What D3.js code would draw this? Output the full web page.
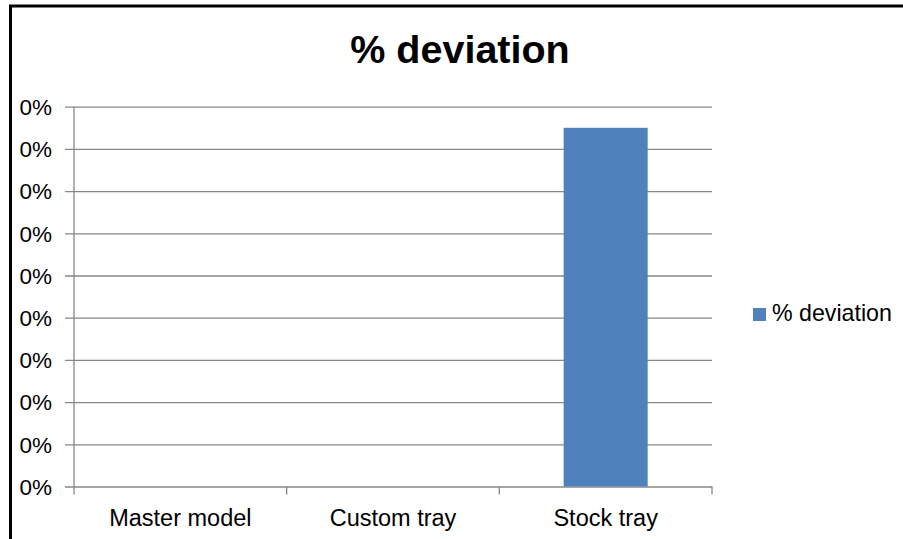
<!DOCTYPE html>
<html>
<head>
<meta charset="utf-8">
<script src="https://cdn.jsdelivr.net/npm/d3@7"></script>
<style>
  body { margin: 0; background: #fff; }
  text { font-family: "Liberation Sans", Arial, sans-serif; fill: #000; }
</style>
</head>
<body>
<div id="root"></div>
<script>
// chart data
var categories = ["Master model", "Custom tray", "Stock tray"];
var deviation = [0, 0, 0.00085];
var yTicks = [0, 0.0001, 0.0002, 0.0003, 0.0004, 0.0005, 0.0006, 0.0007, 0.0008, 0.0009];
var seriesName = "% deviation";

var W = 903, H = 539;
var plotLeft = 74, plotRight = 712, plotTop = 106.7, plotBottom = 486.5;

var svg = d3.select("#root")
    .append("svg")
    .attr("width", W)
    .attr("height", H);

// outer frame (cropped on right/bottom)
svg.append("rect")
    .attr("x", 10.5).attr("y", 6)
    .attr("width", W + 20).attr("height", H + 20)
    .attr("fill", "#fff")
    .attr("stroke", "#000")
    .attr("stroke-width", 3);

var x = d3.scaleBand().domain(categories).range([plotLeft, plotRight]).padding(0);
var y = d3.scaleLinear().domain([0, 0.0009]).range([plotBottom, plotTop]);

// grid + y labels
var yAxis = d3.axisLeft(y)
    .tickValues(yTicks)
    .tickFormat(d3.format(".0%"))
    .tickSizeInner(-(plotRight - plotLeft))
    .tickSizeOuter(0)
    .tickPadding(0);

var gy = svg.append("g")
    .attr("transform", "translate(" + plotLeft + ",0)")
    .call(yAxis);
gy.select(".domain").remove();
gy.selectAll(".tick line")
    .attr("x1", -9)
    .attr("stroke", "#878787")
    .attr("stroke-width", 1.3);
gy.selectAll(".tick text")
    .attr("x", -22)
    .attr("dy", "0.35em")
    .style("font-size", "22.5px")
    .attr("fill", "#000");

// y axis line
svg.append("line")
    .attr("x1", plotLeft).attr("x2", plotLeft)
    .attr("y1", plotTop).attr("y2", plotBottom + 8)
    .attr("stroke", "#878787").attr("stroke-width", 1.3);

// category boundary ticks
var edges = categories.map(function (c) { return x(c); }).concat([plotRight]);
svg.append("g").selectAll("line")
    .data(edges.slice(1))
    .enter().append("line")
    .attr("x1", function (d) { return d; })
    .attr("x2", function (d) { return d; })
    .attr("y1", plotBottom).attr("y2", plotBottom + 8)
    .attr("stroke", "#878787").attr("stroke-width", 1.3);

// category labels
svg.append("g").selectAll("text")
    .data(categories)
    .enter().append("text")
    .attr("x", function (d) { return x(d) + x.bandwidth() / 2; })
    .attr("y", 526)
    .attr("text-anchor", "middle")
    .style("font-size", "23.5px")
    .text(function (d) { return d; });

// bars
var bw = x.bandwidth() * 0.395;
svg.append("g").selectAll("rect")
    .data(deviation)
    .enter().append("rect")
    .attr("x", function (d, i) { return x(categories[i]) + (x.bandwidth() - bw) / 2; })
    .attr("y", function (d) { return y(d); })
    .attr("width", bw)
    .attr("height", function (d) { return y(0) - y(d); })
    .attr("fill", "#4f81bd");

// title
svg.append("text")
    .attr("x", 460)
    .attr("y", 63)
    .attr("text-anchor", "middle")
    .style("font-size", "39.5px")
    .style("font-weight", "bold")
    .text(seriesName);

// legend
svg.append("rect")
    .attr("x", 753).attr("y", 308)
    .attr("width", 13).attr("height", 13)
    .attr("fill", "#4f81bd");
svg.append("text")
    .attr("x", 772).attr("y", 321)
    .style("font-size", "23.2px")
    .text(seriesName);
</script>
</body>
</html>
